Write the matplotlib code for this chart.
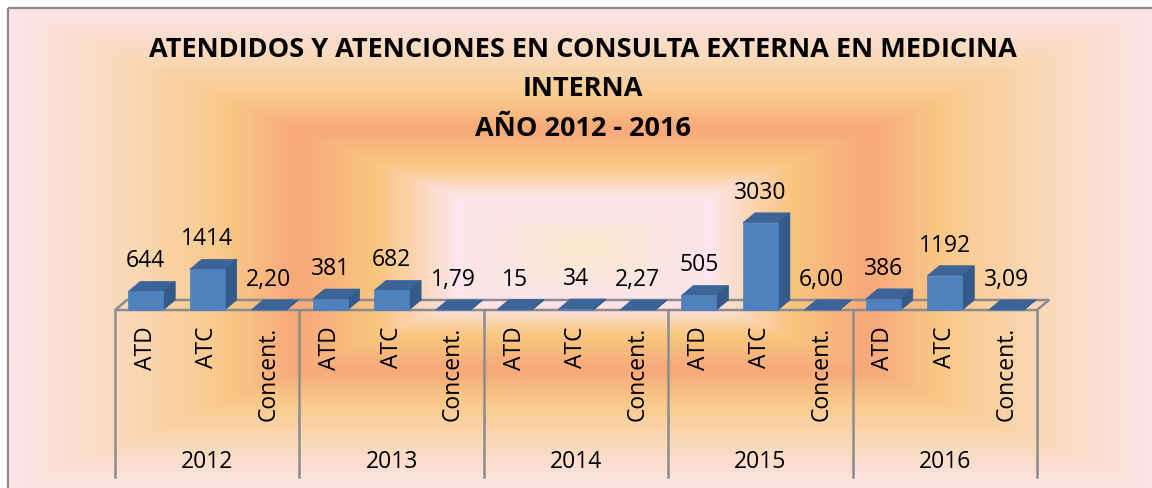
import numpy as np
import matplotlib
matplotlib.use("Agg")
import matplotlib.pyplot as plt
from matplotlib.colors import LinearSegmentedColormap
from matplotlib.patches import Polygon, Rectangle

plt.rcParams['font.family'] = ['Open Sans', 'DejaVu Sans']

# ---- data ----
years = ["2012", "2013", "2014", "2015", "2016"]
measures = ["ATD", "ATC", "Concent."]
atd = [644, 381, 15, 505, 386]
atc = [1414, 682, 34, 3030, 1192]
concent = [2.20, 1.79, 2.27, 6.00, 3.09]
title_lines = ["ATENDIDOS Y ATENCIONES EN CONSULTA EXTERNA EN MEDICINA",
               "INTERNA", "AÑO 2012 - 2016"]

W, H = 1152, 488
fig = plt.figure(figsize=(W / 100, H / 100), dpi=100)

# ---- background gradient (rectangular, from centre) ----
bg = fig.add_axes([0, 0, 1, 1], zorder=0)
bg.set_xlim(0, W)
bg.set_ylim(H, 0)
bg.axis("off")
fx0, fy0, fx1, fy1 = 8, 8, 1160, 492
gx = np.linspace(-1, 1, 600)
gy = np.linspace(-1, 1, 300)
GX, GY = np.meshgrid(gx, gy)
D = np.maximum(np.abs(GX), np.abs(GY))
stops = [(0.0, "#FBEACB"), (0.12, "#FCE6E2"), (0.22, "#FDE5EC"),
         (0.36, "#F9C67E"), (0.50, "#F8A87A"), (0.62, "#F9C886"),
         (0.78, "#FAD8B4"), (1.0, "#FDE4EA")]
cmap = LinearSegmentedColormap.from_list("bgc", stops)
bg.imshow(D, cmap=cmap, vmin=0, vmax=1, extent=[fx0, fx1, fy1, fy0],
          aspect="auto", interpolation="bilinear")
bg.add_patch(Rectangle((fx0, fy0), fx1 - fx0, fy1 - fy0, fill=False,
                       edgecolor="#8A8A8A", lw=1.6))

# ---- title ----
for txt, yy in zip(title_lines, [50, 89, 129]):
    bg.text(583, yy, txt, ha="center", va="center", fontsize=19.5,
            fontweight="bold", color="black")

# ---- plot axes (data space) ----
left_px, right_px, base_px = 115, 1037, 310
ax = fig.add_axes([left_px / W, (H - base_px) / H,
                   (right_px - left_px) / W, (base_px - 8) / H], zorder=2)
ax.patch.set_alpha(0)
for s in ax.spines.values():
    s.set_visible(False)

labels, values = [], []
for i in range(len(years)):
    for m, v in zip(measures, [atd[i], atc[i], concent[i]]):
        labels.append(m)
        values.append(v)
n = len(values)
ax.set_xlim(0, n)
ymax = 10500
ax.set_ylim(0, ymax)

ax_w_px = right_px - left_px
ax_h_px = base_px - 8
xpp = n / ax_w_px          # data x per pixel
ypp = ymax / ax_h_px       # data y per pixel
ddx, ddy = 12 * xpp, 10 * ypp  # depth offset
bw = 35 * xpp

front_c, top_c, side_c = "#4F81BD", "#3C6497", "#335A88"
edge_c = "#8C8C8C"

# floor
floor = Polygon([(0, 0), (n, 0), (n + ddx, ddy), (ddx, ddy)], closed=True,
                facecolor="none", edgecolor=edge_c, lw=1.8, zorder=1,
                clip_on=False)
ax.add_patch(floor)

for i, v in enumerate(values):
    x0 = i + 0.5 - bw / 2
    x1 = x0 + bw
    ax.add_patch(Polygon([(x0, v), (x1, v), (x1 + ddx, v + ddy), (x0 + ddx, v + ddy)],
                         closed=True, facecolor=top_c, edgecolor=top_c, lw=0.5,
                         zorder=3, clip_on=False))
    ax.add_patch(Polygon([(x1, 0), (x1 + ddx, ddy), (x1 + ddx, v + ddy), (x1, v)],
                         closed=True, facecolor=side_c, edgecolor=side_c, lw=0.5,
                         zorder=3, clip_on=False))
    ax.add_patch(Rectangle((x0, 0), bw, v, facecolor=front_c, edgecolor=front_c,
                           lw=0.5, zorder=4, clip_on=False))
    lab = f"{v:.2f}".replace(".", ",") if isinstance(v, float) else str(v)
    ax.text(i + 0.5, v + ddy + 8 * ypp, lab, ha="center", va="bottom",
            fontsize=16.5, color="black", zorder=5)

ax.set_xticks(np.arange(n) + 0.5)
ax.set_xticklabels(labels, rotation=90, fontsize=16.5)
ax.tick_params(axis="x", length=0, pad=12)
ax.set_yticks([])

# group dividers and year labels
bt = ax.get_xaxis_transform()
bottom_frac = -(477 - base_px) / ax_h_px
for k in range(len(years) + 1):
    ax.plot([3 * k, 3 * k], [0, bottom_frac], transform=bt, color=edge_c,
            lw=1.8, clip_on=False, zorder=1)
for k, yr in enumerate(years):
    ax.text(3 * k + 1.5, -(462 - base_px) / ax_h_px, yr, transform=bt,
            ha="center", va="center", fontsize=16.5)

fig.savefig("out.png", dpi=100)
